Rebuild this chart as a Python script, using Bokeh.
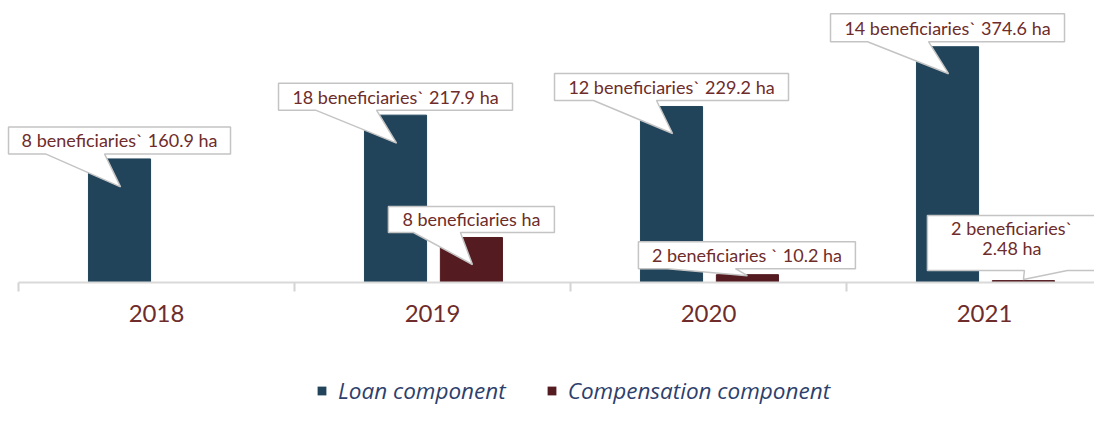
from bokeh.plotting import figure
from bokeh.layouts import column
from bokeh.models import Range1d, FixedTicker, Legend, LegendItem
from bokeh.core.properties import value
from bokeh.embed import file_html
from bokeh.resources import INLINE

# ---- data ----
years = ["2018", "2019", "2020", "2021"]
loan_values = [160.9, 217.9, 229.2, 307.0]
comp_values = [0.0, 58.6, 10.2, 2.48]
loan_labels = ["8 beneficiaries` 160.9 ha", "18 beneficiaries` 217.9 ha",
               "12 beneficiaries` 229.2 ha", "14 beneficiaries` 374.6 ha"]
comp_labels = [None, "8 beneficiaries ha", "2 beneficiaries ` 10.2 ha",
               "2 beneficiaries`\n2.48 ha"]
series_names = ["Loan component", "Compensation component"]

# ---- styling / layout ----
LOAN_COLOR = "#21445a"
COMP_COLOR = "#541b21"
TEXT_COLOR = "#6e2c2b"
LEG_COLOR = "#2e3f6d"
X_PX = 276.0       # px per category
Y_PX = 0.768       # px per value unit
FIG_W = 1094
FRAME_H = 282
MAIN_H = 340
LEG_H = 66
X_START = -18.0 / X_PX
X_END = X_START + FIG_W / X_PX
Y_END = FRAME_H / Y_PX
LOAN_OFF = -0.134
COMP_OFF = 0.141
BAR_W = 0.225

# callout geometry in px relative to (bar centre, bar top):
# L, R, T, B, base1, base2, tipx, tipy, text dy
callout_geo = {
    ("loan", 0): (-111, 111, -32, -5, -74, -15, 1, 28, 0),
    ("loan", 1): (-117, 117, -32, -5, -80, -19, 1, 28, 0),
    ("comp", 1): (-83, 83, -31, -5, -58, -11, 1, 27, 0),
    ("loan", 2): (-117, 117, -33, -6, -78, -15, 1, 27, 0),
    ("comp", 2): (-109, 108, -33, -6, -80, -12, 0, 1, 0),
    ("loan", 3): (-117, 117, -33, -5, -80, -19, 1, 27, 0),
    ("comp", 3): (-96, 73, -65, -10, 1, 44, 0, -1, -5),
}

p = figure(width=FIG_W, height=MAIN_H, output_backend="svg", toolbar_location=None,
           x_range=Range1d(X_START, X_END), y_range=Range1d(0, Y_END),
           y_axis_location=None, min_border_left=0, min_border_right=0,
           min_border_top=0, min_border_bottom=MAIN_H - FRAME_H)
p.grid.visible = False
p.outline_line_color = None

cx = [i + 0.5 for i in range(len(years))]
loan_x = [c + LOAN_OFF for c in cx]
comp_x = [c + COMP_OFF for c in cx]

p.vbar(x=loan_x, top=loan_values, width=BAR_W, color=LOAN_COLOR)
p.vbar(x=comp_x, top=comp_values, width=BAR_W, color=COMP_COLOR)

# callouts
xs, ys, tx, ty, tt = [], [], [], [], []
for (series, i), g in callout_geo.items():
    if series == "loan":
        ax, ay, txt = loan_x[i], loan_values[i], loan_labels[i]
    else:
        ax, ay, txt = comp_x[i], comp_values[i], comp_labels[i]
    L, R, T, B, b1, b2, px, py, tdy = g
    fx = lambda d: ax + d / X_PX
    fy = lambda d: ay - d / Y_PX
    xs.append([fx(L), fx(R), fx(R), fx(b2), fx(px), fx(b1), fx(L)])
    ys.append([fy(T), fy(T), fy(B), fy(B), fy(py), fy(B), fy(B)])
    tx.append(fx((L + R) / 2))
    ty.append(fy((T + B) / 2 + tdy))
    tt.append(txt)

p.patches(xs=xs, ys=ys, fill_color="white", line_color="#c4c4c4", line_width=1.5)
p.text(x=tx, y=ty, text=tt, text_align="center", text_baseline="middle",
       text_font=value("Lato"), text_font_size="18px", text_color=TEXT_COLOR,
       text_line_height=0.9)

# axis
ax_ = p.xaxis[0]
ax_.ticker = FixedTicker(ticks=cx, minor_ticks=[0, 1, 2, 3, 4])
ax_.major_label_overrides = {c: y for c, y in zip(cx, years)}
ax_.major_tick_line_color = None
ax_.major_tick_out = 0
ax_.major_tick_in = 0
ax_.minor_tick_line_color = "#d4d4d4"
ax_.minor_tick_line_width = 2
ax_.minor_tick_out = 9
ax_.minor_tick_in = 0
ax_.axis_line_color = "#d9d9d9"
ax_.axis_line_width = 2
ax_.bounds = (0, 4)
ax_.major_label_text_font = "Lato"
ax_.major_label_text_font_size = "24px"
ax_.major_label_text_color = TEXT_COLOR
ax_.major_label_standoff = 13

# legend strip: hidden copies of the series feed the legend only
lf = figure(width=FIG_W, height=LEG_H, output_backend="svg", toolbar_location=None,
            x_range=Range1d(0, 1), y_range=Range1d(0, 1),
            x_axis_location=None, y_axis_location=None, min_border=0)
lf.grid.visible = False
lf.outline_line_color = None
d_loan = lf.vbar(x=loan_x, top=loan_values, width=BAR_W, fill_color=LOAN_COLOR,
                 line_alpha=0, visible=False)
d_comp = lf.vbar(x=comp_x, top=comp_values, width=BAR_W, fill_color=COMP_COLOR,
                 line_alpha=0, visible=False)
legend = Legend(items=[LegendItem(label=series_names[0], renderers=[d_loan]),
                       LegendItem(label=series_names[1], renderers=[d_comp])],
                orientation="horizontal", location=(316, 0),
                glyph_width=11, glyph_height=11, label_standoff=11, spacing=40,
                padding=0, margin=0, border_line_color=None, background_fill_alpha=0,
                inactive_fill_alpha=0,
                label_text_font="Open Sans", label_text_font_style="italic",
                label_text_font_size="22.5px", label_text_color=LEG_COLOR)
lf.add_layout(legend, "center")

layout = column(p, lf, spacing=0)
open("out.html", "w").write(file_html(layout, INLINE))
